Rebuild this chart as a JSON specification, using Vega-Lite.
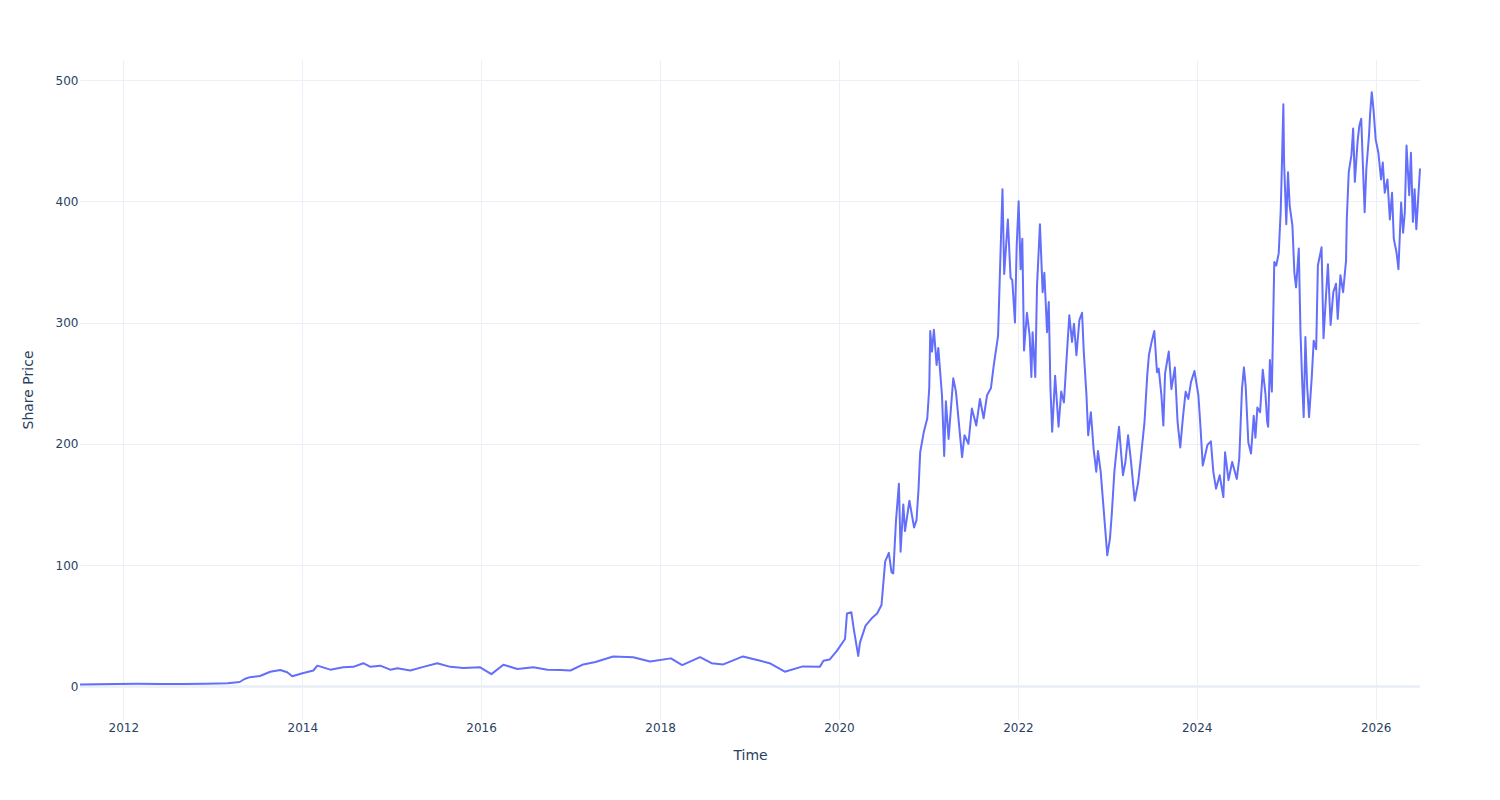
{
  "$schema": "https://vega.github.io/schema/vega-lite/v6.json",
  "autosize": {"type": "none"},
  "padding": {"left": 80, "top": 60, "right": 80, "bottom": 81},
  "width": 1340,
  "height": 659,
  "background": "white",
  "config": {
    "view": {"stroke": null},
    "font": "DejaVu Sans",
    "axis": {
      "gridColor": "#EBF0F8",
      "gridWidth": 1,
      "domain": false,
      "ticks": false,
      "labelFont": "DejaVu Sans",
      "labelFontSize": 12,
      "labelColor": "#2a3f5f",
      "titleFont": "DejaVu Sans",
      "titleFontSize": 14,
      "titleColor": "#2a3f5f",
      "titleFontWeight": "normal"
    }
  },
  "data": {
    "values": [
      {"date": "2011-07-08", "price": 1.5},
      {"date": "2011-09-15", "price": 1.6},
      {"date": "2011-12-01", "price": 1.8},
      {"date": "2012-03-01", "price": 2.0},
      {"date": "2012-06-01", "price": 1.9},
      {"date": "2012-09-01", "price": 1.9},
      {"date": "2012-12-01", "price": 2.1},
      {"date": "2013-03-01", "price": 2.5},
      {"date": "2013-04-20", "price": 3.5},
      {"date": "2013-05-10", "price": 6},
      {"date": "2013-06-01", "price": 7.5},
      {"date": "2013-07-12", "price": 8.5},
      {"date": "2013-08-23", "price": 12},
      {"date": "2013-10-03", "price": 13.4},
      {"date": "2013-10-31", "price": 11.5},
      {"date": "2013-11-21", "price": 8.2},
      {"date": "2014-01-05", "price": 11},
      {"date": "2014-02-15", "price": 13},
      {"date": "2014-03-03", "price": 17},
      {"date": "2014-04-25", "price": 13.7},
      {"date": "2014-06-17", "price": 15.6},
      {"date": "2014-07-28", "price": 16},
      {"date": "2014-09-07", "price": 19},
      {"date": "2014-10-06", "price": 16},
      {"date": "2014-11-15", "price": 17},
      {"date": "2014-12-26", "price": 13.7},
      {"date": "2015-01-24", "price": 14.8},
      {"date": "2015-03-18", "price": 13},
      {"date": "2015-05-10", "price": 16},
      {"date": "2015-07-06", "price": 19},
      {"date": "2015-08-28", "price": 16},
      {"date": "2015-10-21", "price": 15},
      {"date": "2015-12-28", "price": 15.6},
      {"date": "2016-02-12", "price": 10},
      {"date": "2016-04-01", "price": 17.8},
      {"date": "2016-05-28", "price": 14.2},
      {"date": "2016-08-02", "price": 15.6},
      {"date": "2016-09-28", "price": 13.7},
      {"date": "2016-11-20", "price": 13.4},
      {"date": "2016-12-31", "price": 13},
      {"date": "2017-02-21", "price": 18},
      {"date": "2017-04-12", "price": 20},
      {"date": "2017-06-23", "price": 24.6},
      {"date": "2017-09-13", "price": 24},
      {"date": "2017-11-21", "price": 20.5},
      {"date": "2018-02-14", "price": 23},
      {"date": "2018-04-01", "price": 17.5},
      {"date": "2018-06-13", "price": 24},
      {"date": "2018-07-30", "price": 19},
      {"date": "2018-09-16", "price": 18},
      {"date": "2018-12-05", "price": 24.6},
      {"date": "2019-02-14", "price": 21},
      {"date": "2019-03-24", "price": 19},
      {"date": "2019-05-25", "price": 12},
      {"date": "2019-08-07", "price": 16.4},
      {"date": "2019-10-15", "price": 16},
      {"date": "2019-10-30", "price": 21},
      {"date": "2019-11-24", "price": 22},
      {"date": "2019-12-23", "price": 29},
      {"date": "2020-01-26", "price": 39},
      {"date": "2020-02-03", "price": 60},
      {"date": "2020-02-21", "price": 61},
      {"date": "2020-03-02", "price": 47},
      {"date": "2020-03-20", "price": 25},
      {"date": "2020-03-27", "price": 36},
      {"date": "2020-04-19", "price": 50},
      {"date": "2020-05-14", "price": 56},
      {"date": "2020-06-05", "price": 60},
      {"date": "2020-06-23", "price": 67},
      {"date": "2020-07-08", "price": 103},
      {"date": "2020-07-23", "price": 110},
      {"date": "2020-08-03", "price": 94},
      {"date": "2020-08-10", "price": 93},
      {"date": "2020-08-21", "price": 136},
      {"date": "2020-09-02", "price": 167},
      {"date": "2020-09-09", "price": 111},
      {"date": "2020-09-20", "price": 150},
      {"date": "2020-09-27", "price": 128},
      {"date": "2020-10-15", "price": 153},
      {"date": "2020-11-03", "price": 131},
      {"date": "2020-11-13", "price": 137},
      {"date": "2020-11-21", "price": 162},
      {"date": "2020-11-28", "price": 193},
      {"date": "2020-12-13", "price": 210},
      {"date": "2020-12-27", "price": 221},
      {"date": "2021-01-04", "price": 246},
      {"date": "2021-01-08", "price": 293},
      {"date": "2021-01-15", "price": 276},
      {"date": "2021-01-23", "price": 294},
      {"date": "2021-02-03", "price": 265},
      {"date": "2021-02-10", "price": 279},
      {"date": "2021-02-25", "price": 240},
      {"date": "2021-03-06", "price": 190},
      {"date": "2021-03-13", "price": 235},
      {"date": "2021-03-24", "price": 204},
      {"date": "2021-04-12", "price": 254},
      {"date": "2021-04-23", "price": 243},
      {"date": "2021-05-18", "price": 189},
      {"date": "2021-05-28", "price": 207},
      {"date": "2021-06-13", "price": 200},
      {"date": "2021-06-27", "price": 229},
      {"date": "2021-07-15", "price": 215},
      {"date": "2021-07-30", "price": 237},
      {"date": "2021-08-14", "price": 221},
      {"date": "2021-08-28", "price": 240},
      {"date": "2021-09-13", "price": 246},
      {"date": "2021-09-24", "price": 264},
      {"date": "2021-10-12", "price": 289},
      {"date": "2021-10-19", "price": 337},
      {"date": "2021-10-30", "price": 410},
      {"date": "2021-11-06", "price": 340},
      {"date": "2021-11-21", "price": 385},
      {"date": "2021-12-02", "price": 337},
      {"date": "2021-12-09", "price": 335},
      {"date": "2021-12-20", "price": 300},
      {"date": "2021-12-27", "price": 363},
      {"date": "2022-01-04", "price": 400},
      {"date": "2022-01-12", "price": 344},
      {"date": "2022-01-19", "price": 369},
      {"date": "2022-01-26", "price": 277},
      {"date": "2022-02-07", "price": 308},
      {"date": "2022-02-18", "price": 289},
      {"date": "2022-02-25", "price": 255},
      {"date": "2022-03-02", "price": 292},
      {"date": "2022-03-13", "price": 255},
      {"date": "2022-03-20", "price": 330},
      {"date": "2022-04-01", "price": 381},
      {"date": "2022-04-12", "price": 325},
      {"date": "2022-04-19", "price": 341},
      {"date": "2022-04-30", "price": 292},
      {"date": "2022-05-07", "price": 317},
      {"date": "2022-05-14", "price": 245},
      {"date": "2022-05-21", "price": 210},
      {"date": "2022-06-02", "price": 256},
      {"date": "2022-06-16", "price": 214},
      {"date": "2022-06-27", "price": 243},
      {"date": "2022-07-08", "price": 234},
      {"date": "2022-07-19", "price": 271},
      {"date": "2022-07-30", "price": 306},
      {"date": "2022-08-10", "price": 284},
      {"date": "2022-08-18", "price": 299},
      {"date": "2022-08-28", "price": 273},
      {"date": "2022-09-09", "price": 302},
      {"date": "2022-09-20", "price": 308},
      {"date": "2022-09-27", "price": 276},
      {"date": "2022-10-08", "price": 240},
      {"date": "2022-10-15", "price": 207},
      {"date": "2022-10-26", "price": 226},
      {"date": "2022-11-06", "price": 196},
      {"date": "2022-11-17", "price": 177},
      {"date": "2022-11-24", "price": 194},
      {"date": "2022-12-05", "price": 177},
      {"date": "2022-12-16", "price": 149},
      {"date": "2023-01-01", "price": 108},
      {"date": "2023-01-12", "price": 122},
      {"date": "2023-01-19", "price": 141},
      {"date": "2023-01-30", "price": 177},
      {"date": "2023-02-10", "price": 199},
      {"date": "2023-02-18", "price": 214},
      {"date": "2023-02-25", "price": 196},
      {"date": "2023-03-06", "price": 174},
      {"date": "2023-03-16", "price": 185},
      {"date": "2023-03-27", "price": 207},
      {"date": "2023-04-08", "price": 185},
      {"date": "2023-04-23", "price": 153},
      {"date": "2023-05-07", "price": 168},
      {"date": "2023-05-18", "price": 188},
      {"date": "2023-06-02", "price": 218},
      {"date": "2023-06-13", "price": 256},
      {"date": "2023-06-20", "price": 273},
      {"date": "2023-07-01", "price": 284},
      {"date": "2023-07-12", "price": 293},
      {"date": "2023-07-23", "price": 259},
      {"date": "2023-07-30", "price": 262},
      {"date": "2023-08-10", "price": 240},
      {"date": "2023-08-18", "price": 215},
      {"date": "2023-08-25", "price": 258},
      {"date": "2023-09-09", "price": 276},
      {"date": "2023-09-20", "price": 245},
      {"date": "2023-10-04", "price": 263},
      {"date": "2023-10-15", "price": 218},
      {"date": "2023-10-26", "price": 197},
      {"date": "2023-11-06", "price": 222},
      {"date": "2023-11-17", "price": 243},
      {"date": "2023-11-28", "price": 237},
      {"date": "2023-12-09", "price": 251},
      {"date": "2023-12-23", "price": 260},
      {"date": "2024-01-08", "price": 240},
      {"date": "2024-01-15", "price": 219},
      {"date": "2024-01-26", "price": 182},
      {"date": "2024-02-14", "price": 199},
      {"date": "2024-02-28", "price": 202},
      {"date": "2024-03-09", "price": 177},
      {"date": "2024-03-20", "price": 163},
      {"date": "2024-04-04", "price": 174},
      {"date": "2024-04-19", "price": 156},
      {"date": "2024-04-26", "price": 193},
      {"date": "2024-05-10", "price": 170},
      {"date": "2024-05-25", "price": 185},
      {"date": "2024-06-13", "price": 171},
      {"date": "2024-06-23", "price": 188},
      {"date": "2024-07-04", "price": 245},
      {"date": "2024-07-12", "price": 263},
      {"date": "2024-07-19", "price": 248},
      {"date": "2024-07-30", "price": 201},
      {"date": "2024-08-10", "price": 192},
      {"date": "2024-08-21", "price": 223},
      {"date": "2024-08-28", "price": 205},
      {"date": "2024-09-05", "price": 230},
      {"date": "2024-09-16", "price": 226},
      {"date": "2024-09-27", "price": 261},
      {"date": "2024-10-08", "price": 241},
      {"date": "2024-10-15", "price": 218},
      {"date": "2024-10-19", "price": 214},
      {"date": "2024-10-26", "price": 269},
      {"date": "2024-11-03", "price": 243},
      {"date": "2024-11-13", "price": 350},
      {"date": "2024-11-21", "price": 347},
      {"date": "2024-12-01", "price": 357},
      {"date": "2024-12-09", "price": 391},
      {"date": "2024-12-13", "price": 421},
      {"date": "2024-12-20", "price": 480},
      {"date": "2024-12-23", "price": 432},
      {"date": "2025-01-01", "price": 381},
      {"date": "2025-01-08", "price": 424},
      {"date": "2025-01-15", "price": 396},
      {"date": "2025-01-26", "price": 380},
      {"date": "2025-02-03", "price": 341},
      {"date": "2025-02-10", "price": 329},
      {"date": "2025-02-21", "price": 361},
      {"date": "2025-02-28", "price": 292},
      {"date": "2025-03-06", "price": 256},
      {"date": "2025-03-13", "price": 222},
      {"date": "2025-03-20", "price": 288},
      {"date": "2025-03-27", "price": 248},
      {"date": "2025-04-04", "price": 222},
      {"date": "2025-04-15", "price": 255},
      {"date": "2025-04-23", "price": 285},
      {"date": "2025-05-03", "price": 278},
      {"date": "2025-05-10", "price": 347},
      {"date": "2025-05-25", "price": 362},
      {"date": "2025-06-02", "price": 287},
      {"date": "2025-06-13", "price": 325},
      {"date": "2025-06-20", "price": 348},
      {"date": "2025-07-01", "price": 298},
      {"date": "2025-07-12", "price": 325},
      {"date": "2025-07-23", "price": 332},
      {"date": "2025-07-30", "price": 303},
      {"date": "2025-08-10", "price": 339},
      {"date": "2025-08-21", "price": 325},
      {"date": "2025-09-02", "price": 351},
      {"date": "2025-09-05", "price": 385},
      {"date": "2025-09-13", "price": 424},
      {"date": "2025-09-24", "price": 438},
      {"date": "2025-10-01", "price": 460},
      {"date": "2025-10-08", "price": 416},
      {"date": "2025-10-19", "price": 449},
      {"date": "2025-10-26", "price": 462},
      {"date": "2025-11-03", "price": 468},
      {"date": "2025-11-10", "price": 429},
      {"date": "2025-11-17", "price": 391},
      {"date": "2025-11-24", "price": 427},
      {"date": "2025-12-05", "price": 455},
      {"date": "2025-12-09", "price": 471},
      {"date": "2025-12-16", "price": 490},
      {"date": "2025-12-23", "price": 476},
      {"date": "2026-01-01", "price": 451},
      {"date": "2026-01-12", "price": 440},
      {"date": "2026-01-23", "price": 418},
      {"date": "2026-01-30", "price": 432},
      {"date": "2026-02-07", "price": 407},
      {"date": "2026-02-18", "price": 418},
      {"date": "2026-02-28", "price": 385},
      {"date": "2026-03-09", "price": 407},
      {"date": "2026-03-16", "price": 369},
      {"date": "2026-03-27", "price": 358},
      {"date": "2026-04-04", "price": 344},
      {"date": "2026-04-15", "price": 399},
      {"date": "2026-04-23", "price": 374},
      {"date": "2026-04-30", "price": 391},
      {"date": "2026-05-07", "price": 446},
      {"date": "2026-05-18", "price": 405},
      {"date": "2026-05-25", "price": 440},
      {"date": "2026-06-02", "price": 383},
      {"date": "2026-06-09", "price": 410},
      {"date": "2026-06-16", "price": 377},
      {"date": "2026-07-01", "price": 427}
    ]
  },
  "layer": [
    {
      "mark": {"type": "rule", "color": "#EBF0F8", "strokeWidth": 2},
      "encoding": {"y": {"datum": 0, "type": "quantitative"}}
    },
    {
      "mark": {"type": "line", "color": "#636efa", "strokeWidth": 2, "strokeJoin": "round"},
      "encoding": {
        "x": {
          "field": "date",
          "type": "temporal",
          "title": "Time",
          "scale": {"domain": ["2011-07-08", "2026-07-01"], "nice": false},
          "axis": {
            "values": [{"year": 2012}, {"year": 2014}, {"year": 2016}, {"year": 2018}, {"year": 2020}, {"year": 2022}, {"year": 2024}, {"year": 2026}],
            "format": "%Y",
            "grid": true,
            "labelPadding": 3,
            "labelFlush": false,
            "labelOverlap": false,
            "titlePadding": 15
          }
        },
        "y": {
          "field": "price",
          "type": "quantitative",
          "title": "Share Price",
          "scale": {"domain": [-27, 516.5], "nice": false, "zero": false},
          "axis": {
            "values": [0, 100, 200, 300, 400, 500],
            "grid": true,
            "labelPadding": 2,
            "titlePadding": 20
          }
        }
      }
    }
  ]
}
